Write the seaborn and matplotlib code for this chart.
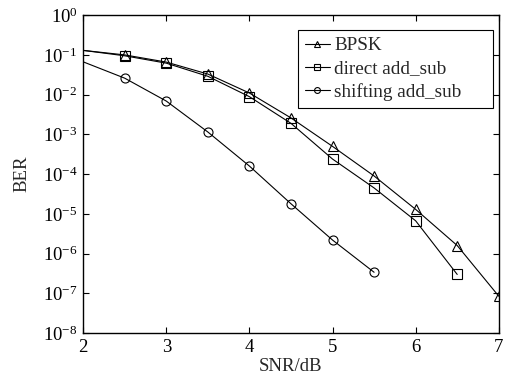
import numpy as np
import pandas as pd
import matplotlib
matplotlib.use('Agg')
import matplotlib.pyplot as plt
import seaborn as sns

# SNR points (dB)
snr = [2.0, 2.5, 3.0, 3.5, 4.0, 4.5, 5.0, 5.5, 6.0, 6.5, 7.0]

# BER curves
ber_bpsk = [0.13, 0.1, 0.066, 0.033, 0.011, 2.6e-3, 5.0e-4, 9.0e-5, 1.3e-5, 1.6e-6, 8.5e-8]
ber_direct = [0.13, 0.095, 0.062, 0.029, 8.9e-3, 1.9e-3, 2.4e-4, 4.5e-5, 6.7e-6, 3.0e-7]
ber_shift = [0.067, 0.026, 6.9e-3, 1.15e-3, 1.6e-4, 1.8e-5, 2.2e-6, 3.4e-7]

labels = ['BPSK', 'direct add_sub', 'shifting add_sub']
markers = ['^', 's', 'o']

sns.set_style('ticks')
plt.rcParams['font.family'] = ['Liberation Serif', 'DejaVu Serif']
plt.rcParams['mathtext.fontset'] = 'custom'
plt.rcParams['mathtext.rm'] = 'Liberation Serif'
plt.rcParams['mathtext.it'] = 'Liberation Serif:italic'
plt.rcParams['font.size'] = 13.5

fig = plt.figure(figsize=(5.1, 3.79), dpi=100)
ax = fig.add_axes([0.163, 0.121, 0.815, 0.839])

series = [ber_bpsk, ber_direct, ber_shift]
for vals, lab, mk in zip(series, labels, markers):
    df = pd.DataFrame({'SNR': snr[:len(vals)], 'BER': vals})
    sns.lineplot(data=df, x='SNR', y='BER', ax=ax, color='k', lw=0.8,
                 marker=mk, markersize=6.5, mfc='none', mec='k', mew=0.8,
                 markevery=list(range(1, len(vals))), label=lab)

ax.set_yscale('log')
ax.set_xlim(2, 7)
ax.set_ylim(1e-8, 1)
ax.set_xticks([2, 3, 4, 5, 6, 7])
ax.set_yticks([10.0 ** k for k in range(-8, 1)])
ax.set_xlabel('SNR/dB', labelpad=2)
ax.set_ylabel('BER', labelpad=9)

ax.tick_params(which='both', direction='in', top=True, right=True, colors='k')
ax.tick_params(which='major', length=4, width=0.8, pad=4)
ax.tick_params(which='minor', length=2, width=0.6)
ax.tick_params(axis='x', which='minor', top=False, bottom=False)
for sp in ax.spines.values():
    sp.set_linewidth(1.0)
    sp.set_color('k')

# legend box spans roughly x 0.517..0.986, top 0.953 in axes coords
leg = ax.legend(loc='upper left', bbox_to_anchor=(0.517, 0.953, 0.469, 0.0),
                mode='expand', fancybox=False, fontsize=13.8, markerscale=0.65,
                edgecolor='k', framealpha=1, handlelength=1.3, handletextpad=0.25,
                borderpad=0.35, labelspacing=0.3, borderaxespad=0)
leg.get_frame().set_linewidth(0.8)

fig.savefig('out.png', dpi=100)
